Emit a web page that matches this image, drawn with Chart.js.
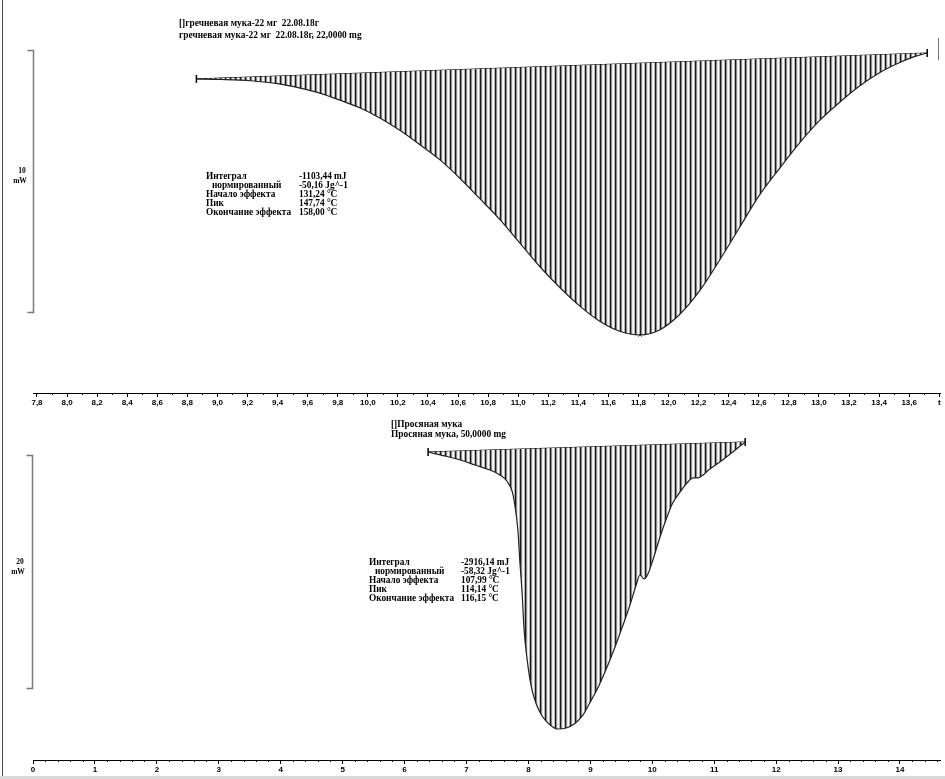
<!DOCTYPE html>
<html>
<head>
<meta charset="utf-8">
<script src="https://cdn.jsdelivr.net/npm/chart.js@4.4.1/dist/chart.umd.min.js"></script>
<style>
html, body { margin: 0; padding: 0; background: #fff; }
#wrap { position: relative; width: 945px; height: 779px; overflow: hidden; }
canvas { display: block; }
#strip { height: 3px; background: #d9d9d9; }
</style>
</head>
<body>
<div id="wrap">
  <canvas id="buck" width="945" height="410"></canvas>
  <canvas id="millet" width="945" height="366"></canvas>
  <div id="strip"></div>
</div>
<script>
// --- гречневая мука (top panel), time in min, heat flow in mW ---
const buckTime = [8.86, 9.02, 9.22, 9.41, 9.55, 9.68, 9.81, 9.95, 10.08, 10.21, 10.34, 10.48,
    10.61, 10.74, 10.88, 11.01, 11.14, 11.28, 11.41, 11.54, 11.67, 11.81, 11.94, 12.07, 12.21,
    12.34, 12.47, 12.60, 12.74, 12.87, 13.00, 13.14, 13.27, 13.40, 13.53, 13.63, 13.72];
const buckFlow = [-0.99, -1.01, -1.06, -1.18, -1.34, -1.53, -1.79, -2.10, -2.48, -2.94, -3.47, -4.08,
    -4.77, -5.53, -6.37, -7.25, -8.13, -8.97, -9.66, -10.23, -10.61, -10.76, -10.57, -10.00, -9.05,
    -7.90, -6.68, -5.46, -4.39, -3.44, -2.60, -1.87, -1.26, -0.76, -0.38, -0.15, 0.00];
const buckBaseTime = [8.86, 13.72];
const buckBaseFlow = [-0.99, 0.00];
const buckPeak = [11.81, -10.76];
const buckTitle = ["[]гречневая мука-22 мг  22.08.18г", "гречневая мука-22 мг  22.08.18г, 22,0000 mg"];
const buckResultValues = ["-1103,44 mJ", "-50,16 Jg^-1", "131,24 °C", "147,74 °C", "158,00 °C"];

// --- просяная мука (bottom panel) ---
const milletTime = [6.38, 6.65, 6.90, 7.14, 7.38, 7.54, 7.65, 7.74, 7.78, 7.83, 7.86, 7.90, 7.93,
    7.98, 8.04, 8.12, 8.22, 8.35, 8.48, 8.61, 8.74, 8.87, 8.99, 9.12, 9.25, 9.38, 9.51, 9.64,
    9.74, 9.80, 9.87, 9.93, 10.01, 10.11, 10.22, 10.33, 10.45, 10.56, 10.66, 10.74, 10.82,
    10.93, 11.09, 11.30, 11.50];
const milletFlow = [-1.03, -1.37, -1.72, -2.15, -2.58, -3.00, -3.52, -4.46, -5.58, -7.73, -10.30,
    -13.30, -16.31, -18.88, -21.03, -22.58, -23.69, -24.46, -24.81, -24.72, -24.38, -23.69,
    -22.58, -21.29, -19.74, -18.03, -16.14, -14.16, -12.45, -11.59, -11.93, -11.50, -10.30,
    -8.58, -6.87, -5.41, -4.46, -3.69, -3.26, -3.26, -3.00, -2.49, -1.89, -1.03, -0.17];
const milletBaseTime = [6.38, 11.50];
const milletBaseFlow = [-1.03, -0.17];
const milletTitle = ["[]Просяная мука", "Просяная мука, 50,0000 mg"];
const milletResultValues = ["-2916,14 mJ", "-58,32 Jg^-1", "107,99 °C", "114,14 °C", "116,15 °C"];

const resultNames = ["Интеграл", "нормированный", "Начало эффекта", "Пик", "Окончание эффекта"];

function hatch() {
    const c = document.createElement("canvas");
    c.width = 5; c.height = 1;
    const g = c.getContext("2d");
    ["#1a1a1a", "#8c8c8c", "#e6e6e6", "#ffffff", "#b4b4b4"].forEach((col, i) => {
        g.fillStyle = col; g.fillRect(i, 0, 1, 1);
    });
    return g.createPattern(c, "repeat");
}

function pts(xs, ys) {
    return xs.map((x, i) => ({ x, y: ys[i] }));
}

// scale bar, minor ticks, texts
const decor = {
    id: "decor",
    afterDraw(chart, args, o) {
        const { ctx, chartArea } = chart;
        const x = chart.scales.x, y = chart.scales.y;
        ctx.save();

        // minor ticks
        ctx.strokeStyle = "#000";
        ctx.lineWidth = 1;
        const yb = chartArea.bottom;
        for (let i = Math.ceil(x.min / o.minor - 1e-9); i * o.minor <= x.max + 1e-9; i++) {
            const v = i * o.minor;
            const r = v / o.major;
            if (Math.abs(r - Math.round(r)) < 1e-6) continue;
            const px = Math.round(x.getPixelForValue(v)) + 0.5;
            ctx.beginPath(); ctx.moveTo(px, yb); ctx.lineTo(px, yb + 2); ctx.stroke();
        }

        // mW scale bar
        const y1 = Math.round(y.getPixelForValue(o.barFrom)) + 0.5;
        const y2 = Math.round(y.getPixelForValue(o.barFrom - o.barSpan)) + 0.5;
        const bx = o.barX + 0.5;
        ctx.strokeStyle = "#7a7a7a";
        ctx.lineWidth = 1.5;
        ctx.beginPath();
        ctx.moveTo(bx - 6, y1); ctx.lineTo(bx, y1); ctx.lineTo(bx, y2); ctx.lineTo(bx - 6, y2);
        ctx.stroke();

        ctx.fillStyle = "#000";
        ctx.textBaseline = "middle";
        ctx.textAlign = "center";
        ctx.font = 'bold 7.5px "Liberation Serif"';
        ctx.fillText(String(o.barSpan), o.barLabelX, o.barLabelY[0]);
        ctx.fillText("mW", o.barLabelX - 2, o.barLabelY[1]);

        // titles
        ctx.textAlign = "left";
        ctx.font = 'bold 9.4px "Liberation Serif"';
        o.title.forEach((t, i) => ctx.fillText(t, o.titleX, o.titleY[i]));

        // result table
        ctx.font = 'bold 9.3px "Liberation Serif"';
        resultNames.forEach((t, i) => {
            const yy = o.tableY + i * o.tableStep;
            ctx.fillText(t, o.tableX + (i === 1 ? o.indent : 0), yy);
            ctx.fillText(o.values[i], o.valueX, yy);
        });

        // frame
        ctx.strokeStyle = "#4a4a4a";
        ctx.lineWidth = 1;
        ctx.beginPath(); ctx.moveTo(2.5, 0); ctx.lineTo(2.5, chart.height); ctx.stroke();
        if (o.rightMark) {
            ctx.strokeStyle = "#777";
            ctx.beginPath(); ctx.moveTo(938.5, o.rightMark[0]); ctx.lineTo(938.5, o.rightMark[1]); ctx.stroke();
        }
        ctx.restore();
    }
};

function makeChart(id, cfg) {
    return new Chart(document.getElementById(id), {
        type: "line",
        data: {
            datasets: [
                {
                    data: pts(cfg.time, cfg.flow),
                    borderColor: "#222",
                    borderWidth: 1.2,
                    pointRadius: 0,
                    cubicInterpolationMode: "monotone",
                    fill: "+1",
                    backgroundColor: hatch(),
                },
                {
                    data: pts(cfg.baseTime, cfg.baseFlow),
                    borderColor: "#000",
                    borderWidth: 1,
                    pointStyle: "line",
                    pointRotation: 90,
                    pointRadius: 4,
                    pointBorderWidth: 1.5,
                    pointBorderColor: "#000",
                    fill: false,
                },
                {
                    data: cfg.peak ? [{ x: cfg.peak[0], y: cfg.peak[1] }] : [],
                    pointStyle: "crossRot",
                    pointRadius: 2.5,
                    pointBorderColor: "#333",
                    pointBorderWidth: 1,
                    showLine: false,
                },
            ],
        },
        options: {
            responsive: false,
            devicePixelRatio: 1,
            animation: false,
            layout: { autoPadding: false, padding: { left: 33, right: 5, top: 0, bottom: 0 } },
            plugins: {
                legend: { display: false },
                tooltip: { enabled: false },
                decor: cfg.decor,
            },
            scales: {
                x: {
                    type: "linear",
                    min: cfg.xMin,
                    max: cfg.xMax,
                    border: { display: true, color: "#000", width: 1 },
                    grid: { display: true, drawOnChartArea: false, drawTicks: true, tickLength: 4, color: "#000", tickColor: "#000" },
                    ticks: {
                        stepSize: cfg.decor.major,
                        includeBounds: false,
                        autoSkip: false,
                        maxRotation: 0,
                        padding: 1,
                        color: "#000",
                        font: { family: "Liberation Sans", size: 8, weight: "bold" },
                        callback: cfg.label,
                    },
                    afterFit(s) { s.height = cfg.axisHeight; },
                },
                y: { display: false, min: cfg.yMin, max: cfg.yMax },
            },
        },
        plugins: [decor],
    });
}

makeChart("buck", {
    time: buckTime, flow: buckFlow, baseTime: buckBaseTime, baseFlow: buckBaseFlow, peak: buckPeak,
    xMin: 7.7734, xMax: 13.805, yMin: -12.977, yMax: 2.023, axisHeight: 17,
    label: v => Math.abs(v - 13.8) < 1e-6 ? "t" : v.toFixed(1).replace(".", ","),
    decor: {
        major: 0.2, minor: 0.1,
        barX: 33, barFrom: 0.11, barSpan: 10, barLabelX: 22, barLabelY: [171, 181],
        title: buckTitle, titleX: 179, titleY: [24, 36],
        values: buckResultValues, tableX: 206, indent: 6, valueX: 299, tableY: 177, tableStep: 8.9,
        rightMark: [38, 60],
    },
});

makeChart("millet", {
    time: milletTime, flow: milletFlow, baseTime: milletBaseTime, baseFlow: milletBaseFlow, peak: null,
    xMin: 0, xMax: 14.646, yMin: -27.47, yMax: 2.575, axisHeight: 16,
    label: v => String(Math.round(v)),
    decor: {
        major: 1, minor: 0.2,
        barX: 32, barFrom: -1.29, barSpan: 20, barLabelX: 20, barLabelY: [152, 162],
        title: milletTitle, titleX: 391, titleY: [15, 25],
        values: milletResultValues, tableX: 369, indent: 6, valueX: 461, tableY: 153, tableStep: 8.8,
        rightMark: null,
    },
});
</script>
</body>
</html>
